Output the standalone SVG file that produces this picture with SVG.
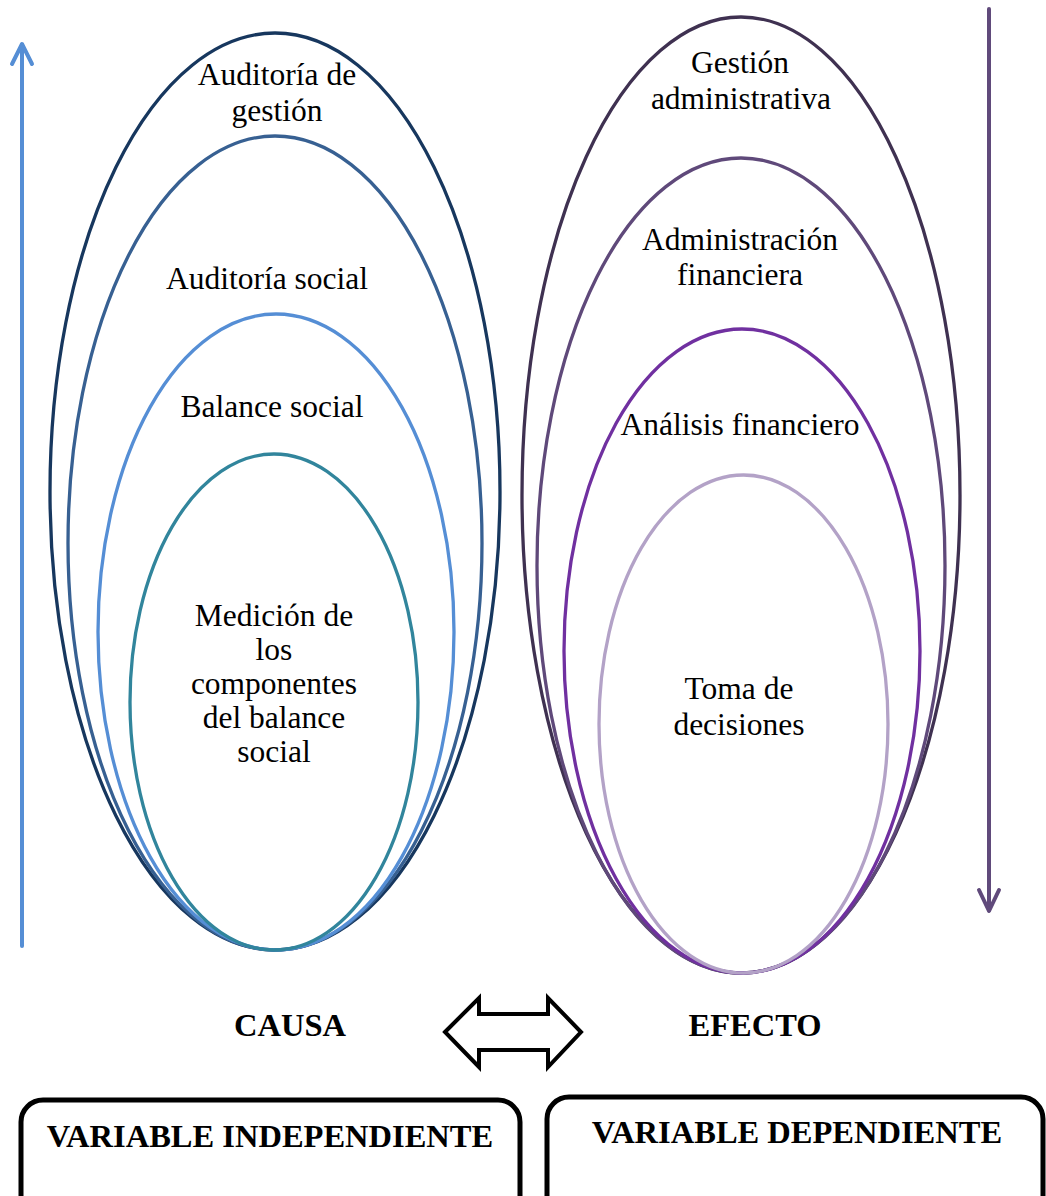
<svg xmlns="http://www.w3.org/2000/svg" width="1046" height="1196" viewBox="0 0 1046 1196">
  <style>
    .ring { fill: none; stroke-width: 3.3; }
    .lbl { font-family: "Liberation Serif", "Times New Roman", serif; font-size: 31.5px; fill: #000; text-anchor: middle; }
    .bold { font-family: "Liberation Serif", "Times New Roman", serif; font-size: 32.5px; font-weight: bold; fill: #000; text-anchor: middle; }
    .box { fill: #fff; stroke: #000; stroke-width: 5; }
  </style>
  <rect width="1046" height="1196" fill="#fff"/>

  <!-- Left column: nested causes -->
  <g id="auditoria-gestion">
    <ellipse class="ring" cx="275" cy="491.5" rx="225" ry="458.5" stroke="#17375E"/>
    <text class="lbl" x="277" y="85">Auditoría de</text>
    <text class="lbl" x="277" y="121">gestión</text>
  </g>
  <g id="auditoria-social">
    <ellipse class="ring" cx="275" cy="543" rx="207" ry="407" stroke="#376092"/>
    <text class="lbl" x="267" y="289">Auditoría social</text>
  </g>
  <g id="balance-social">
    <ellipse class="ring" cx="276" cy="632" rx="178" ry="318" stroke="#558ED5"/>
    <text class="lbl" x="272" y="417">Balance social</text>
  </g>
  <g id="medicion">
    <ellipse class="ring" cx="274" cy="702" rx="144" ry="248" stroke="#31859C"/>
    <text class="lbl" x="274" y="626">Medición de</text>
    <text class="lbl" x="274" y="660">los</text>
    <text class="lbl" x="274" y="694">componentes</text>
    <text class="lbl" x="274" y="728">del balance</text>
    <text class="lbl" x="274" y="762">social</text>
  </g>

  <!-- Right column: nested effects -->
  <g id="gestion-administrativa">
    <ellipse class="ring" cx="741" cy="495" rx="219" ry="478" stroke="#3F3151"/>
    <text class="lbl" x="740" y="73">Gestión</text>
    <text class="lbl" x="741" y="109">administrativa</text>
  </g>
  <g id="administracion-financiera">
    <ellipse class="ring" cx="741" cy="565.5" rx="204" ry="407.5" stroke="#5F497A"/>
    <text class="lbl" x="740" y="250">Administración</text>
    <text class="lbl" x="740" y="285">financiera</text>
  </g>
  <g id="analisis-financiero">
    <ellipse class="ring" cx="742" cy="651" rx="178" ry="322" stroke="#7030A0"/>
    <text class="lbl" x="740" y="435">Análisis financiero</text>
  </g>
  <g id="toma-decisiones">
    <ellipse class="ring" cx="743.5" cy="724" rx="144.5" ry="249" stroke="#B3A2C7"/>
    <text class="lbl" x="739" y="699">Toma de</text>
    <text class="lbl" x="739" y="735">decisiones</text>
  </g>

  <!-- Direction arrows and the cause/effect link -->
  <g id="connectors">
    <g fill="none" stroke="#558ED5" stroke-width="4" stroke-linecap="round" stroke-linejoin="round">
      <line x1="22" y1="946" x2="22" y2="45"/>
      <polyline points="12,64 22,44 32,64"/>
    </g>
    <g fill="none" stroke="#604A7B" stroke-width="4" stroke-linecap="round" stroke-linejoin="round">
      <line x1="989" y1="9" x2="989" y2="910"/>
      <polyline points="979,890 989,911 999,890"/>
    </g>
    <polygon points="445,1032 479,998 479,1014 548,1014 548,998 581,1032 548,1067 548,1050 479,1050 479,1067" fill="#fff" stroke="#000" stroke-width="4" stroke-linejoin="miter"/>
  </g>

  <g id="causa">
    <text class="bold" x="290" y="1036">CAUSA</text>
  </g>
  <g id="efecto">
    <text class="bold" x="755" y="1036">EFECTO</text>
  </g>

  <!-- Variable boxes -->
  <g id="variable-independiente">
    <rect class="box" x="21" y="1100" width="499" height="130" rx="22" ry="22"/>
    <text class="bold" x="270" y="1147">VARIABLE INDEPENDIENTE</text>
  </g>
  <g id="variable-dependiente">
    <rect class="box" x="547" y="1097" width="496" height="130" rx="22" ry="22"/>
    <text class="bold" x="797" y="1143">VARIABLE DEPENDIENTE</text>
  </g>
</svg>
